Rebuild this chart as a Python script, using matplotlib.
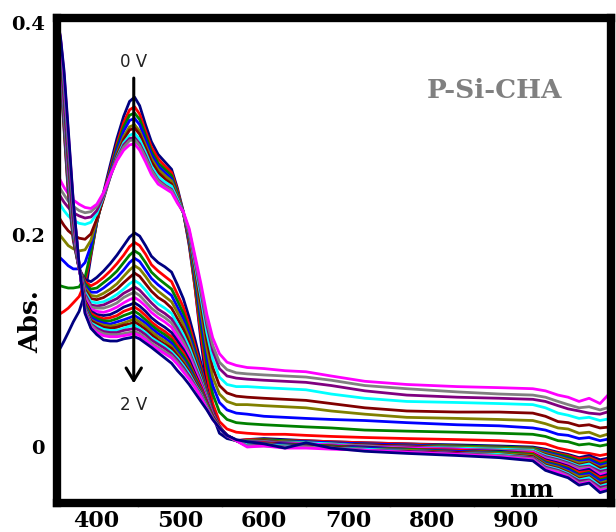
import matplotlib.pyplot as plt

plt.rcParams['font.family'] = 'DejaVu Serif'

# wavelength grid (nm) shared by every scan
wavelength = [355, 358, 362, 367, 373, 380, 387, 394, 401, 409, 417, 425, 433, 440, 446,
              452, 459, 466, 474, 482, 490, 497, 504, 511, 518, 525, 532, 539, 547, 556, 567,
              580, 600, 625, 650, 680, 720, 770, 830, 880, 920, 935, 950, 962, 975, 987, 1000, 1013]

# first set of scans (strong 450 nm band)
upper_scans = [
    [.090, .094, .100, .108, .118, .128, .145, .180, .212, .240, .266, .291, .312, .326, .330,
     .322, .304, .288, .276, .269, .262, .244, .222, .190, .150, .100, .058, .030, .013, .008, .006,
     .005, .005, .004, .004, .003, .002, .001, .000, -.001, -.002, -.004, -.008, -.010, -.013, -.012, -.016, -.014],
    [.124, .126, .128, .131, .136, .142, .155, .182, .212, .238, .262, .286, .306, .318, .321,
     .314, .298, .283, .272, .265, .259, .242, .221, .192, .150, .106, .068, .041, .024, .017, .014,
     .013, .012, .012, .011, .010, .009, .008, .007, .006, .004, .003, -.001, -.003, -.005, -.006, -.008, -.006],
    [.152, .152, .151, .150, .150, .151, .160, .184, .212, .237, .260, .283, .302, .313, .315,
     .309, .294, .279, .268, .262, .256, .240, .221, .194, .155, .114, .077, .050, .033, .026, .023,
     .022, .021, .020, .019, .018, .016, .015, .014, .013, .012, .010, .006, .005, .002, .003, .001, .003],
    [.180, .178, .175, .171, .168, .168, .174, .190, .213, .236, .258, .280, .298, .308, .310,
     .304, .290, .276, .265, .259, .253, .238, .221, .196, .160, .121, .085, .058, .042, .035, .032,
     .031, .029, .028, .027, .026, .025, .023, .021, .020, .018, .016, .012, .011, .008, .009, .006, .008],
    [.202, .199, .195, .190, .187, .185, .186, .195, .214, .235, .256, .277, .293, .302, .304,
     .298, .285, .272, .262, .256, .251, .237, .221, .198, .164, .128, .093, .066, .050, .043, .040,
     .040, .039, .038, .037, .034, .031, .028, .027, .026, .025, .022, .018, .017, .013, .014, .010, .013],
    [.218, .214, .209, .204, .200, .197, .196, .201, .215, .234, .255, .275, .290, .299, .301,
     .295, .282, .269, .259, .253, .248, .235, .221, .200, .168, .135, .101, .075, .058, .051, .048,
     .047, .046, .045, .044, .041, .037, .034, .033, .033, .032, .029, .024, .023, .020, .021, .018, .019],
    [.232, .228, .223, .218, .214, .211, .210, .212, .220, .236, .255, .273, .287, .294, .296,
     .290, .278, .265, .255, .250, .246, .234, .221, .202, .172, .141, .108, .083, .066, .059, .057,
     .057, .056, .055, .054, .050, .046, .043, .042, .041, .040, .037, .032, .030, .027, .028, .025, .027],
    [.240, .236, .231, .226, .221, .218, .216, .217, .223, .237, .255, .272, .285, .291, .292,
     .286, .275, .262, .252, .247, .243, .232, .221, .203, .175, .146, .115, .091, .074, .067, .065,
     .064, .063, .062, .061, .058, .053, .049, .047, .046, .045, .043, .039, .036, .034, .032, .031, .034],
    [.247, .243, .238, .232, .227, .223, .221, .222, .227, .239, .256, .271, .283, .289, .290,
     .284, .273, .261, .251, .246, .242, .231, .221, .204, .177, .149, .119, .096, .080, .073, .070,
     .069, .068, .067, .066, .063, .058, .055, .052, .050, .049, .047, .043, .040, .037, .038, .035, .038],
    [.256, .251, .245, .239, .233, .229, .226, .225, .229, .240, .256, .270, .280, .285, .286,
     .280, .269, .257, .248, .244, .240, .230, .222, .206, .180, .154, .125, .103, .088, .080, .077,
     .075, .074, .072, .071, .067, .062, .059, .057, .056, .055, .053, .049, .047, .043, .046, .041, .052],
]

# second set of scans (weaker band, steep UV edge)
lower_scans = [
    [.395, .350, .300, .240, .195, .168, .158, .156, .160, .166, .173, .181, .190, .198, .202,
     .199, .190, .180, .174, .170, .165, .153, .140, .122, .101, .079, .055, .035, .019, .009, .006,
     .007, .008, .007, .006, .005, .004, .003, .002, .001, .000, -.002, -.005, -.007, -.010, -.008, -.012, -.010],
    [.395, .352, .303, .243, .197, .168, .156, .152, .155, .160, .166, .173, .181, .189, .193,
     .190, .182, .172, .166, .161, .156, .144, .132, .115, .095, .075, .053, .034, .019, .010, .006,
     .007, .007, .006, .006, .005, .004, .003, .001, .000, -.001, -.003, -.006, -.008, -.011, -.010, -.014, -.011],
    [.396, .355, .306, .246, .199, .168, .154, .149, .150, .155, .160, .166, .174, .181, .185,
     .182, .174, .165, .159, .154, .149, .138, .126, .110, .091, .072, .051, .033, .019, .010, .006,
     .006, .007, .006, .005, .004, .003, .002, .001, .000, -.001, -.004, -.007, -.009, -.013, -.011, -.016, -.013],
    [.396, .357, .309, .249, .201, .168, .152, .146, .146, .150, .155, .160, .167, .174, .178,
     .175, .167, .159, .153, .148, .143, .132, .121, .106, .088, .070, .050, .033, .019, .010, .006,
     .006, .006, .005, .005, .004, .003, .002, .000, -.001, -.002, -.005, -.008, -.011, -.014, -.012, -.017, -.015],
    [.397, .359, .312, .252, .203, .168, .150, .143, .142, .145, .149, .154, .161, .167, .171,
     .168, .161, .153, .147, .142, .137, .127, .116, .102, .085, .068, .049, .032, .019, .011, .006,
     .006, .006, .005, .004, .003, .002, .001, .000, -.001, -.002, -.006, -.009, -.012, -.015, -.014, -.019, -.016],
    [.397, .361, .315, .255, .205, .168, .148, .140, .139, .141, .145, .149, .155, .160, .164,
     .161, .154, .147, .141, .137, .131, .121, .111, .098, .082, .066, .048, .032, .019, .011, .006,
     .005, .006, .004, .004, .003, .002, .001, -.001, -.002, -.003, -.007, -.010, -.013, -.017, -.015, -.020, -.018],
    [.397, .363, .318, .258, .207, .169, .146, .137, .136, .137, .140, .144, .149, .154, .157,
     .154, .148, .141, .135, .131, .126, .116, .106, .094, .079, .064, .047, .031, .019, .011, .006,
     .005, .005, .004, .004, .003, .001, .000, -.001, -.002, -.003, -.008, -.011, -.014, -.018, -.016, -.022, -.019],
    [.398, .365, .321, .261, .209, .169, .144, .134, .133, .134, .137, .140, .145, .148, .151,
     .148, .142, .136, .130, .126, .121, .112, .102, .090, .076, .062, .046, .031, .019, .011, .006,
     .005, .005, .004, .003, .002, .001, .000, -.002, -.003, -.004, -.009, -.012, -.015, -.019, -.018, -.023, -.021],
    [.398, .367, .324, .264, .211, .169, .142, .132, .131, .131, .133, .136, .141, .144, .146,
     .143, .137, .131, .126, .122, .117, .108, .099, .088, .074, .060, .045, .030, .019, .011, .006,
     .004, .005, .003, .003, .002, .001, -.001, -.002, -.003, -.004, -.010, -.013, -.016, -.020, -.019, -.025, -.022],
    [.398, .369, .327, .267, .213, .169, .140, .130, .128, .127, .129, .132, .136, .139, .141,
     .138, .133, .127, .122, .118, .113, .104, .095, .085, .072, .059, .044, .030, .019, .011, .006,
     .004, .004, .003, .003, .002, .000, -.001, -.002, -.004, -.005, -.011, -.014, -.017, -.022, -.020, -.026, -.024],
    [.399, .371, .330, .270, .215, .170, .138, .128, .125, .124, .125, .128, .132, .134, .136,
     .133, .128, .122, .117, .113, .108, .100, .092, .082, .069, .057, .043, .029, .019, .011, .006,
     .004, .004, .003, .002, .001, .000, -.002, -.003, -.004, -.006, -.012, -.015, -.018, -.023, -.021, -.028, -.025],
    [.399, .373, .333, .273, .217, .170, .137, .126, .123, .121, .122, .124, .128, .130, .132,
     .129, .124, .118, .113, .109, .104, .096, .089, .079, .067, .056, .042, .029, .019, .011, .006,
     .003, .004, .002, .002, .001, -.001, -.002, -.003, -.005, -.006, -.013, -.016, -.019, -.024, -.023, -.029, -.027],
    [.399, .375, .336, .276, .219, .170, .135, .124, .121, .119, .119, .121, .124, .126, .128,
     .125, .120, .115, .110, .106, .101, .093, .086, .077, .065, .054, .041, .029, .019, .011, .006,
     .003, .003, .002, .002, .001, -.001, -.002, -.004, -.005, -.007, -.014, -.017, -.020, -.026, -.024, -.031, -.028],
    [.400, .377, .339, .279, .221, .170, .133, .122, .119, .117, .116, .118, .120, .122, .124,
     .121, .117, .112, .107, .103, .098, .090, .083, .074, .063, .053, .040, .028, .019, .011, .006,
     .003, .003, .002, .001, .000, -.001, -.003, -.004, -.006, -.008, -.015, -.018, -.021, -.027, -.025, -.032, -.030],
    [.400, .378, .341, .282, .223, .170, .132, .120, .117, .115, .114, .115, .117, .119, .121,
     .118, .114, .109, .104, .100, .095, .088, .081, .072, .062, .052, .040, .028, .019, .011, .006,
     .002, .003, .001, .001, .000, -.002, -.003, -.005, -.006, -.008, -.016, -.019, -.023, -.028, -.027, -.034, -.031],
    [.400, .380, .343, .285, .225, .171, .131, .119, .116, .113, .112, .113, .115, .116, .118,
     .115, .111, .106, .101, .097, .093, .086, .079, .071, .061, .051, .039, .028, .019, .011, .006,
     .002, .002, .001, .001, .000, -.002, -.004, -.005, -.007, -.009, -.017, -.020, -.024, -.030, -.028, -.035, -.033],
    [.400, .381, .345, .288, .227, .171, .130, .117, .114, .111, .110, .110, .112, .114, .115,
     .112, .108, .103, .099, .095, .090, .084, .077, .069, .059, .050, .038, .027, .018, .011, .006,
     .002, .002, .001, .000, -.001, -.002, -.004, -.006, -.007, -.010, -.018, -.021, -.025, -.031, -.029, -.037, -.034],
    [.400, .382, .348, .291, .228, .171, .129, .116, .112, .109, .108, .108, .110, .111, .112,
     .110, .106, .101, .097, .093, .088, .082, .075, .067, .058, .049, .037, .027, .018, .011, .006,
     .001, .002, .000, .000, -.001, -.003, -.004, -.006, -.008, -.010, -.019, -.022, -.026, -.032, -.031, -.038, -.036],
    [.400, .383, .350, .294, .230, .171, .128, .115, .110, .107, .106, .106, .107, .108, .109,
     .107, .103, .098, .094, .090, .086, .080, .073, .065, .057, .048, .037, .027, .018, .011, .006,
     .001, .001, .000, .000, -.001, -.003, -.005, -.007, -.008, -.011, -.020, -.023, -.027, -.034, -.032, -.040, -.037],
    [.400, .384, .352, .297, .231, .171, .127, .113, .108, .105, .104, .104, .105, .106, .107,
     .105, .101, .096, .092, .088, .084, .078, .071, .064, .056, .047, .036, .026, .018, .011, .006,
     .000, .001, -.001, -.001, -.002, -.003, -.005, -.007, -.009, -.012, -.021, -.024, -.028, -.035, -.033, -.041, -.039],
    [.400, .385, .355, .300, .232, .172, .126, .112, .106, .101, .100, .100, .102, .103, .104,
     .102, .098, .094, .089, .084, .079, .072, .066, .059, .051, .043, .035, .026, .018, .011, .007,
     .005, .003, -.001, .004, -.001, -.004, -.006, -.008, -.010, -.013, -.022, -.026, -.029, -.036, -.034, -.043, -.040],
]

scan_colors = ['#000080', '#ff0000', '#008000', '#0000ff', '#808000',
               '#800000', '#00ffff', '#800080', '#808080', '#ff00ff']

x_ticks = [400, 500, 600, 700, 800, 900]
y_ticks = [0, 0.2, 0.4]
y_tick_labels = ['0', '0.2', '0.4']

fig = plt.figure(figsize=(6.16, 5.32), dpi=100)
ax = fig.add_axes([0.0933, 0.0545, 0.8985, 0.9117])

for i, scan in enumerate(upper_scans):
    ax.plot(wavelength, scan, color=scan_colors[i % 10], lw=2.0)
for i, scan in enumerate(lower_scans):
    ax.plot(wavelength, scan, color=scan_colors[i % 10], lw=2.0)

ax.set_xlim(354.2, 1013)
ax.set_ylim(-0.0528, 0.4047)

ax.set_xticks(x_ticks)
ax.set_xticklabels([str(t) for t in x_ticks])
ax.set_yticks(y_ticks)
ax.set_yticklabels(y_tick_labels)
ax.set_xticks([450, 550, 650, 750, 850, 950], minor=True)
ax.set_yticks([-0.025, 0.025, 0.05, 0.075, 0.1, 0.125, 0.15, 0.175, 0.225, 0.25,
               0.275, 0.3, 0.325, 0.35, 0.375], minor=True)
ax.tick_params(which='major', length=0)
ax.tick_params(axis='x', which='major', pad=5, labelsize=16)
ax.tick_params(axis='y', which='major', pad=9, labelsize=14)
for lab in ax.get_xticklabels() + ax.get_yticklabels():
    lab.set_fontweight('bold')
ax.tick_params(which='minor', length=3, width=1, color='#aaaaaa', direction='out')

for s in ax.spines.values():
    s.set_linewidth(6)
    s.set_zorder(5)

# potential sweep arrow
ax.annotate('', xy=(445, 0.060), xytext=(445, 0.348),
            arrowprops=dict(arrowstyle='->, head_length=0.9, head_width=0.55',
                            lw=2.2, color='black', shrinkA=0, shrinkB=0), zorder=6)
ax.text(445, 0.363, '0 V', family='DejaVu Sans', fontsize=12, color='#222222',
        ha='center', va='center')
ax.text(445, 0.040, '2 V', family='DejaVu Sans', fontsize=12, color='#222222',
        ha='center', va='center')

fig.text(495 / 616, 1 - 91 / 532, 'P-Si-CHA', fontsize=19, fontweight='bold',
         color='#808080', ha='center', va='center')
fig.text(532 / 616, 1 - 490 / 532, 'nm', fontsize=18, fontweight='bold',
         ha='center', va='center')
fig.text(31 / 616, 1 - 322 / 532, 'Abs.', fontsize=19, fontweight='bold',
         rotation=90, ha='center', va='center')

fig.savefig('out.png', dpi=100)
